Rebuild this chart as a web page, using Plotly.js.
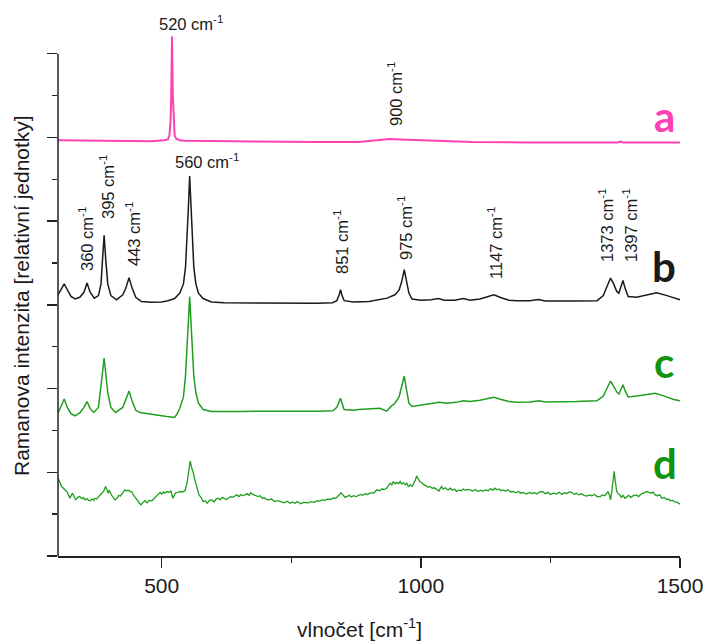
<!DOCTYPE html>
<html>
<head>
<meta charset="utf-8">
<script src="https://cdn.plot.ly/plotly-3.0.1.min.js"></script>
<style>html,body{margin:0;padding:0;background:#fff;}#chart{width:705px;height:641px;}</style>
</head>
<body>
<div id="chart"></div>
<script>
// ---- data (wavenumber in cm-1, intensity in offset relative units) ----
const waveA = [300,400,480,505,512,515,517,518.5,520,521.5,523,525,528,535,545,600,700,800,880,920,940,960,1000,1050,1100,1200,1300,1380,1385,1390,1500];
const intA  = [9.93,9.92,9.91,9.93,9.95,10.05,10.35,11.0,12.41,11.0,10.35,10.05,9.97,9.93,9.92,9.91,9.90,9.89,9.89,9.93,9.96,9.95,9.93,9.90,9.89,9.88,9.88,9.88,9.90,9.88,9.88];

const waveB = [300,306,312,318,325,333,342,350,356,362,370,378,383,386,389,392,396,402,413,425,431,437,443,450,461,480,500,512,525,535,542,546,549,551.5,554,556.5,559,562,566,571,580,596,620,700,800,830,838,842,845,848,852,870,900,935,950,958,963,968,972,977,983,1000,1020,1034,1045,1065,1082,1095,1114,1130,1141,1155,1170,1185,1210,1227,1240,1300,1340,1352,1360,1366,1372,1378,1382,1386,1390,1394,1400,1416,1435,1455,1475,1490,1500];
const intB  = [6.24,6.36,6.50,6.36,6.20,6.14,6.18,6.30,6.52,6.30,6.16,6.22,6.50,7.10,7.66,7.10,6.50,6.22,6.12,6.24,6.40,6.65,6.40,6.18,6.08,6.06,6.07,6.10,6.15,6.28,6.50,6.90,7.57,8.30,9.08,8.30,7.57,6.90,6.50,6.28,6.15,6.07,6.05,6.04,6.04,6.05,6.10,6.22,6.36,6.22,6.10,6.07,6.08,6.16,6.24,6.35,6.55,6.84,6.55,6.28,6.14,6.11,6.12,6.15,6.11,6.11,6.15,6.11,6.14,6.20,6.24,6.17,6.11,6.10,6.10,6.13,6.09,6.09,6.10,6.22,6.45,6.64,6.50,6.32,6.28,6.42,6.58,6.40,6.20,6.18,6.24,6.29,6.22,6.15,6.12];

const waveC = [300,306,312,318,325,333,342,350,356,362,369,378,383,386,389,392,396,402,411,425,431,437,443,450,458,480,497,510,525,530,535,542,546,549,551.5,554,556.5,559,562,566,571,580,596,650,700,800,830,838,842,845,848,852,870,880,921,934,943,950,958,963,968,972,977,983,1000,1020,1036,1050,1068,1082,1095,1114,1130,1141,1155,1170,1185,1210,1228,1240,1300,1340,1352,1360,1366,1372,1378,1382,1386,1390,1394,1400,1416,1435,1452,1470,1488,1500];
const intC  = [3.41,3.60,3.75,3.55,3.40,3.35,3.42,3.55,3.69,3.52,3.43,3.55,4.00,4.40,4.73,4.40,3.90,3.55,3.43,3.55,3.75,3.94,3.70,3.48,3.43,3.38,3.35,3.33,3.31,3.40,3.53,3.80,4.30,4.90,5.60,6.20,5.60,4.90,4.30,3.90,3.65,3.50,3.45,3.45,3.46,3.46,3.47,3.55,3.68,3.77,3.65,3.50,3.48,3.50,3.53,3.46,3.58,3.65,3.80,4.05,4.30,4.00,3.65,3.57,3.60,3.63,3.67,3.65,3.67,3.71,3.69,3.72,3.77,3.79,3.74,3.69,3.67,3.68,3.71,3.68,3.69,3.71,3.82,4.02,4.18,4.05,3.92,3.87,3.98,4.09,3.95,3.80,3.82,3.86,3.89,3.82,3.74,3.71];

const waveD = [300,304,307,312,317,320,323,326,328,331,334,338,342,346,349,352,356,359,362,366,369,371,375,380,384,388,392,395,397,399,400,404,407,410,414,417,420,424,427,429,432,436,440,442,446,449,452,456,460,464,468,472,476,481,484,487,490,494,497,500,504,506,510,514,518,520,522,525,527,531,536,540,545,549,552,555,558,561,564,568,572,576,580,584,588,592,597,601,605,609,613,617,621,625,629,633,637,641,645,649,653,657,661,665,669,672,676,680,686,690,694,698,702,706,712,718,724,730,736,742,748,752,757,762,768,774,778,783,788,794,800,805,809,815,820,826,830,834,838,842,846,850,854,857,862,866,870,875,879,884,888,893,897,901,906,910,915,920,925,930,934,938,941,944,947,950,953,957,960,963,967,970,973,976,980,983,986,989,992,995,998,1002,1006,1010,1014,1018,1022,1026,1031,1035,1038,1040,1043,1047,1050,1053,1057,1061,1065,1069,1073,1078,1082,1086,1090,1095,1100,1105,1110,1115,1120,1125,1130,1135,1139,1143,1147,1151,1155,1159,1163,1168,1173,1178,1183,1188,1193,1198,1204,1209,1214,1219,1224,1229,1235,1240,1245,1250,1256,1262,1267,1272,1277,1282,1286,1291,1296,1300,1305,1310,1315,1320,1325,1330,1335,1340,1346,1350,1355,1358,1361,1364,1366,1368,1370,1373,1375,1378,1381,1384,1387,1390,1394,1397,1401,1405,1410,1416,1420,1425,1430,1436,1440,1445,1448,1452,1456,1461,1465,1470,1474,1478,1481,1486,1490,1495,1500];
const intD  = [1.87,1.75,1.66,1.60,1.54,1.47,1.38,1.46,1.50,1.42,1.34,1.40,1.42,1.37,1.40,1.34,1.37,1.33,1.32,1.36,1.33,1.38,1.36,1.44,1.50,1.55,1.66,1.56,1.50,1.58,1.54,1.44,1.40,1.34,1.38,1.45,1.43,1.50,1.55,1.58,1.56,1.57,1.54,1.54,1.45,1.40,1.34,1.28,1.22,1.28,1.32,1.27,1.33,1.32,1.36,1.38,1.43,1.48,1.52,1.48,1.53,1.50,1.54,1.52,1.55,1.45,1.38,1.47,1.51,1.52,1.54,1.53,1.56,1.74,2.05,2.27,2.10,2.00,1.82,1.62,1.46,1.40,1.30,1.32,1.26,1.33,1.34,1.29,1.36,1.38,1.34,1.40,1.37,1.35,1.38,1.42,1.40,1.44,1.46,1.42,1.47,1.44,1.46,1.49,1.45,1.51,1.47,1.45,1.42,1.44,1.38,1.39,1.35,1.34,1.36,1.30,1.32,1.30,1.27,1.31,1.26,1.29,1.26,1.30,1.25,1.28,1.27,1.27,1.30,1.28,1.32,1.31,1.34,1.33,1.36,1.35,1.38,1.38,1.40,1.46,1.51,1.46,1.40,1.42,1.45,1.41,1.44,1.42,1.44,1.47,1.45,1.49,1.47,1.50,1.51,1.51,1.58,1.56,1.60,1.59,1.62,1.68,1.74,1.70,1.78,1.72,1.76,1.73,1.78,1.72,1.75,1.70,1.74,1.66,1.70,1.66,1.72,1.80,1.91,1.84,1.78,1.75,1.70,1.68,1.64,1.66,1.62,1.63,1.59,1.55,1.62,1.66,1.60,1.63,1.60,1.58,1.62,1.57,1.60,1.54,1.58,1.56,1.60,1.57,1.59,1.58,1.55,1.59,1.54,1.57,1.55,1.58,1.56,1.61,1.57,1.62,1.58,1.60,1.56,1.58,1.55,1.58,1.53,1.54,1.51,1.54,1.50,1.52,1.48,1.52,1.49,1.51,1.48,1.53,1.54,1.49,1.52,1.47,1.50,1.48,1.52,1.47,1.51,1.49,1.53,1.52,1.47,1.50,1.46,1.49,1.45,1.43,1.46,1.44,1.47,1.42,1.42,1.46,1.44,1.50,1.54,1.45,1.34,1.50,1.78,2.02,1.80,1.54,1.48,1.46,1.40,1.45,1.38,1.42,1.45,1.40,1.44,1.46,1.42,1.48,1.50,1.54,1.52,1.50,1.53,1.46,1.44,1.46,1.38,1.40,1.35,1.36,1.32,1.33,1.29,1.28,1.24];

const seriesNames = ["a","b","c","d"];
const peakLabels = ["520","560","360","395","443","851","900","975","1147","1373","1397"];
const xTickVals = [500,1000,1500];
const xTitle = "vlnočet [cm<sup>-1</sup>]";
const yTitle = "Ramanova intenzita [relativní jednotky]";

// ---- styling / placement ----
const PINK = "#ff40b4", BLACK = "#1a1a1a", GREEN = "#1f9e1f", LETTERGREEN = "#129412";
const L = 58, R = 680, B = 556, T = 16;   // plot area in pixels
const XR = [300,1500], YR = [0,12.9];
const pxX = p => (p - L) / (R - L);      // pixel -> paper fraction
const pxY = p => (B - p) / (B - T);

const traces = [
  {x: waveA, y: intA, color: PINK, w: 2},
  {x: waveB, y: intB, color: BLACK, w: 1.5},
  {x: waveC, y: intC, color: GREEN, w: 1.5},
  {x: waveD, y: intD, color: GREEN, w: 1.3}
].map((s,i) => ({type:"scatter", mode:"lines", x:s.x, y:s.y, name:seriesNames[i],
   line:{color:s.color, width:s.w}, hoverinfo:"skip"}));

const FONT = "Liberation Sans, Arial, sans-serif";
const TXT = "#1a1a1a";
// peak label placement: [px, py, rotated]
const peakPos = [[191,23,false],[207,161,false],[86,239,true],[107,187,true],[133,234,true],
                 [341,242,true],[395,94,true],[405,228,true],[495,243,true],[606,225,true],[630,225,true]];
const annotations = peakLabels.map((lab,i) => ({
  x: pxX(peakPos[i][0]), y: pxY(peakPos[i][1]), xref:"paper", yref:"paper",
  text: lab + " cm<sup>-1</sup>", showarrow:false, textangle: peakPos[i][2] ? -90 : 0,
  xanchor:"center", yanchor:"middle", font:{family:FONT, size:16.5, color:TXT}
}));
const letterPos = [[664,116,PINK],[664,266,BLACK],[664,362,LETTERGREEN],[665,463,LETTERGREEN]];
seriesNames.forEach((n,i) => annotations.push({
  x: pxX(letterPos[i][0]), y: pxY(letterPos[i][1]), xref:"paper", yref:"paper", text:"<b>"+n+"</b>",
  showarrow:false, xanchor:"center", yanchor:"middle",
  font:{family:"Lato, Open Sans, sans-serif", size:42, color:letterPos[i][2]}
}));
annotations.push({x: pxX(359), y: pxY(628), xref:"paper", yref:"paper", text:xTitle, showarrow:false,
  xanchor:"center", yanchor:"middle", font:{family:FONT, size:21, color:TXT}});
annotations.push({x: pxX(21), y: pxY(296), xref:"paper", yref:"paper", text:yTitle, showarrow:false,
  textangle:-90, xanchor:"center", yanchor:"middle", font:{family:FONT, size:21, color:TXT}});

const layout = {
  width:705, height:641, margin:{l:L, r:705-R, t:T, b:641-B},
  paper_bgcolor:"#fff", plot_bgcolor:"#fff", showlegend:false,
  font:{family:FONT, color:TXT},
  xaxis:{range:XR, tickmode:"array", tickvals:xTickVals, ticks:"outside", ticklen:10, tickwidth:1.5,
    tickcolor:"#222", showline:true, linecolor:"#222", linewidth:1.5, showgrid:false, zeroline:false,
    tickfont:{family:FONT, size:21, color:TXT},
    minor:{tickvals:[750,1250], ticks:"outside", ticklen:5, tickwidth:1.5, tickcolor:"#222", showgrid:false}},
  yaxis:{range:YR, tickmode:"linear", tick0:0, dtick:2, ticks:"outside", ticklen:10, tickwidth:1.5,
    tickcolor:"#222", showline:false, showgrid:false, zeroline:false, showticklabels:false,
    minor:{tickmode:"linear", tick0:1, dtick:2, ticks:"outside", ticklen:5, tickwidth:1.5, tickcolor:"#222", showgrid:false}},
  shapes:[{type:"line", xref:"paper", yref:"y", x0:0, x1:0, y0:0, y1:12, line:{color:"#222", width:1.5}}],
  annotations: annotations
};
Plotly.newPlot("chart", traces, layout, {staticPlot:true, displayModeBar:false});
</script>
</body>
</html>
